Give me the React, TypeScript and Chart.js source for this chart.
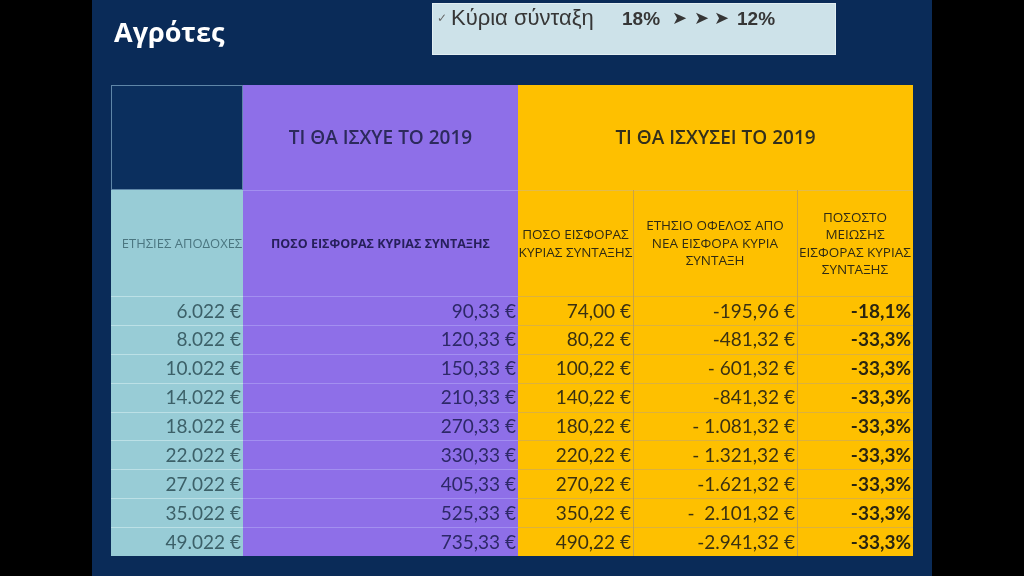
import React, { useEffect, useRef } from "react";
import { Chart, registerables } from "chart.js";

Chart.register(...registerables);

// ---- data ----
const annualIncome = [6022, 8022, 10022, 14022, 18022, 22022, 27022, 35022, 49022];
const contributionCurrent = [90.33, 120.33, 150.33, 210.33, 270.33, 330.33, 405.33, 525.33, 735.33];
const contributionNew = [74.0, 80.22, 100.22, 140.22, 180.22, 220.22, 270.22, 350.22, 490.22];
const annualBenefitLabels = [
  "-195,96 €",
  "-481,32 €",
  "- 601,32 €",
  "-841,32 €",
  "- 1.081,32 €",
  "- 1.321,32 €",
  "-1.621,32 €",
  "-  2.101,32 €",
  "-2.941,32 €",
];
const reductionPct = [-18.1, -33.3, -33.3, -33.3, -33.3, -33.3, -33.3, -33.3, -33.3];

const slideTitle = "Αγρότες";
const noteLabel = "Κύρια σύνταξη";
const noteFrom = "18%";
const noteTo = "12%";
const groupHeaders = ["ΤΙ ΘΑ ΙΣΧΥΕ ΤΟ 2019", "ΤΙ ΘΑ ΙΣΧΥΣΕΙ ΤΟ 2019"];
const columnHeaders = [
  ["ΕΤΗΣΙΕΣ ΑΠΟΔΟΧΕΣ"],
  ["ΠΟΣΟ ΕΙΣΦΟΡΑΣ ΚΥΡΙΑΣ ΣΥΝΤΑΞΗΣ"],
  ["ΠΟΣΟ ΕΙΣΦΟΡΑΣ", "ΚΥΡΙΑΣ ΣΥΝΤΑΞΗΣ"],
  ["ΕΤΗΣΙΟ ΟΦΕΛΟΣ ΑΠΟ", "ΝΕΑ ΕΙΣΦΟΡΑ ΚΥΡΙΑ", "ΣΥΝΤΑΞΗ"],
  ["ΠΟΣΟΣΤΟ", "ΜΕΙΩΣΗΣ", "ΕΙΣΦΟΡΑΣ ΚΥΡΙΑΣ", "ΣΥΝΤΑΞΗΣ"],
];

// ---- layout (scale units) ----
const COL_EDGES = [0, 132, 407, 522, 686, 802];
const HEADER_EDGES = [0, 105, 211];
const TABLE_BOTTOM = 471;

const NAVY = "#0a2b58";
const TEAL = "#98ccd6";
const PURPLE = "#8e6fe8";
const ORANGE = "#fec000";

const fmtThousands = (n: number) => String(n).replace(/\B(?=(\d{3})+(?!\d))/g, ".");
const fmtInt = (n: number) => `${fmtThousands(n)} €`;
const fmtDec = (n: number) => {
  const [i, d] = n.toFixed(2).split(".");
  return `${fmtThousands(Number(i))},${d} €`;
};
const fmtPct = (n: number) => `${n.toFixed(1).replace(".", ",")}%`;

const NUM_FONT = "Lato, 'Open Sans', sans-serif";
const GREEK_FONT = "'Open Sans', 'Noto Sans', sans-serif";

const tablePlugin = {
  id: "slideTable",
  beforeDraw(chart: any) {
    const ctx: CanvasRenderingContext2D = chart.ctx;
    const xs = chart.scales.x;
    const ys = chart.scales.y;
    const X = (v: number) => xs.getPixelForValue(v);
    const Y = (v: number) => ys.getPixelForValue(v);
    const nRows = annualIncome.length;
    const rowH = (TABLE_BOTTOM - HEADER_EDGES[2]) / nRows;
    const rowTop = (k: number) => HEADER_EDGES[2] + k * rowH;

    ctx.save();
    // slide background
    ctx.fillStyle = "#000";
    ctx.fillRect(0, 0, chart.width, chart.height);
    ctx.fillStyle = NAVY;
    ctx.fillRect(92, 0, 840, chart.height);

    // title
    ctx.fillStyle = "#ffffff";
    ctx.font = "bold 27px 'Open Sans', sans-serif";
    ctx.textBaseline = "alphabetic";
    ctx.textAlign = "left";
    ctx.fillText(slideTitle, 114, 42);

    // note box
    ctx.fillStyle = "#cde2e9";
    ctx.fillRect(432, 3, 404, 52);
    ctx.strokeStyle = "#e2eef2";
    ctx.lineWidth = 1;
    ctx.strokeRect(432.5, 3.5, 403, 51);
    ctx.fillStyle = "#666";
    ctx.font = "12px 'DejaVu Sans', sans-serif";
    ctx.fillText("✓", 437, 22);
    ctx.fillStyle = "#363636";
    ctx.font = "22px 'Liberation Sans', Arial, sans-serif";
    ctx.fillText(noteLabel, 451, 25);
    ctx.font = "bold 19px 'Liberation Sans', Arial, sans-serif";
    ctx.fillText(noteFrom, 622, 25);
    ctx.font = "18px 'DejaVu Sans', sans-serif";
    ctx.fillText("➤", 672, 24);
    ctx.fillText("➤", 694, 24);
    ctx.fillText("➤", 714, 24);
    ctx.font = "bold 19px 'Liberation Sans', Arial, sans-serif";
    ctx.fillText(noteTo, 737, 25);

    // ---- cell backgrounds ----
    const rect = (x0: number, x1: number, y0: number, y1: number, color: string) => {
      ctx.fillStyle = color;
      ctx.fillRect(X(x0), Y(y0), X(x1) - X(x0), Y(y1) - Y(y0));
    };
    rect(COL_EDGES[0], COL_EDGES[1], HEADER_EDGES[0], HEADER_EDGES[1], "#0b2f5e");
    rect(COL_EDGES[0], COL_EDGES[1], HEADER_EDGES[1], TABLE_BOTTOM, TEAL);
    rect(COL_EDGES[1], COL_EDGES[2], HEADER_EDGES[0], TABLE_BOTTOM, PURPLE);
    rect(COL_EDGES[2], COL_EDGES[5], HEADER_EDGES[0], TABLE_BOTTOM, ORANGE);

    // top-left cell border
    ctx.strokeStyle = "#5f86a8";
    ctx.lineWidth = 1;
    ctx.strokeRect(
      X(COL_EDGES[0]) + 0.5,
      Y(HEADER_EDGES[0]) + 0.5,
      X(COL_EDGES[1]) - X(COL_EDGES[0]) - 1,
      Y(HEADER_EDGES[1]) - Y(HEADER_EDGES[0]) - 1
    );

    const hline = (x0: number, x1: number, y: number, color: string) => {
      ctx.strokeStyle = color;
      ctx.lineWidth = 1;
      ctx.beginPath();
      const py = Math.round(Y(y)) + 0.5;
      ctx.moveTo(X(x0), py);
      ctx.lineTo(X(x1), py);
      ctx.stroke();
    };
    const vline = (x: number, y0: number, y1: number, color: string) => {
      ctx.strokeStyle = color;
      ctx.lineWidth = 1;
      ctx.beginPath();
      const px = Math.round(X(x)) + 0.5;
      ctx.moveTo(px, Y(y0));
      ctx.lineTo(px, Y(y1));
      ctx.stroke();
    };

    // row lines
    for (let k = 0; k < nRows; k++) {
      const y = rowTop(k);
      hline(COL_EDGES[0], COL_EDGES[1], y, "#bce0e6");
      hline(COL_EDGES[1], COL_EDGES[2], y, "#a38ff0");
      hline(COL_EDGES[2], COL_EDGES[5], y, "#dcb13e");
    }
    hline(COL_EDGES[1], COL_EDGES[2], HEADER_EDGES[1], "#a38ff0");
    hline(COL_EDGES[2], COL_EDGES[5], HEADER_EDGES[1], "#e2bb4c");
    vline(COL_EDGES[3], HEADER_EDGES[1], TABLE_BOTTOM, "#c9a347");
    vline(COL_EDGES[4], HEADER_EDGES[1], TABLE_BOTTOM, "#c9a347");

    // ---- header text ----
    ctx.textAlign = "center";
    ctx.textBaseline = "middle";
    const h1y = Y((HEADER_EDGES[0] + HEADER_EDGES[1]) / 2) + 1;
    ctx.font = `600 19px ${GREEK_FONT}`;
    ctx.fillStyle = "#2c2a5c";
    ctx.fillText(groupHeaders[0], X((COL_EDGES[1] + COL_EDGES[2]) / 2), h1y);
    ctx.fillStyle = "#33301c";
    ctx.fillText(groupHeaders[1], X((COL_EDGES[2] + COL_EDGES[5]) / 2), h1y);

    const h2c = Y((HEADER_EDGES[1] + HEADER_EDGES[2]) / 2) + 1;
    const lineGap = 17.5;
    columnHeaders.forEach((lines, c) => {
      const cx = X((COL_EDGES[c] + COL_EDGES[c + 1]) / 2);
      if (c === 0) {
        ctx.font = `13px ${GREEK_FONT}`;
        ctx.fillStyle = "#4b7680";
      } else if (c === 1) {
        ctx.font = `bold 12.5px ${GREEK_FONT}`;
        ctx.fillStyle = "#261f5a";
      } else {
        ctx.font = `500 13.5px ${GREEK_FONT}`;
        ctx.fillStyle = "#2f2a14";
      }
      const y0 = h2c - ((lines.length - 1) * lineGap) / 2;
      lines.forEach((t, i) => {
        ctx.fillText(t, c === 0 ? cx + 5 : cx, y0 + i * lineGap);
      });
    });

    // ---- data text ----
    ctx.textAlign = "right";
    const pad = 2;
    for (let k = 0; k < nRows; k++) {
      const cy = Y(rowTop(k) + rowH / 2) + 1;
      ctx.font = `19px ${NUM_FONT}`;
      ctx.fillStyle = "#3c6068";
      ctx.fillText(fmtInt(annualIncome[k]), X(COL_EDGES[1]) - pad, cy);
      ctx.fillStyle = "#2d2868";
      ctx.fillText(fmtDec(contributionCurrent[k]), X(COL_EDGES[2]) - pad, cy);
      ctx.fillStyle = "#3a3112";
      ctx.fillText(fmtDec(contributionNew[k]), X(COL_EDGES[3]) - pad, cy);
      ctx.fillText(annualBenefitLabels[k], X(COL_EDGES[4]) - pad, cy);
      ctx.font = `bold 19px ${NUM_FONT}`;
      ctx.fillStyle = "#2a2510";
      ctx.fillText(fmtPct(reductionPct[k]), X(COL_EDGES[5]) - pad, cy);
    }
    ctx.restore();
  },
};

export default function App() {
  const ref = useRef<HTMLCanvasElement | null>(null);
  useEffect(() => {
    if (!ref.current) return;
    const chart = new Chart(ref.current, {
      type: "scatter",
      data: { datasets: [] },
      options: {
        animation: false,
        responsive: false,
        maintainAspectRatio: false,
        devicePixelRatio: 1,
        layout: { padding: { left: 111, top: 85, right: 111, bottom: 20 } },
        plugins: { legend: { display: false }, tooltip: { enabled: false } },
        scales: {
          x: { type: "linear", display: false, offset: false, min: COL_EDGES[0], max: COL_EDGES[COL_EDGES.length - 1] },
          y: { type: "linear", display: false, offset: false, min: HEADER_EDGES[0], max: TABLE_BOTTOM, reverse: true },
        },
      },
      plugins: [tablePlugin],
    });
    return () => chart.destroy();
  }, []);
  return (
    <div style={{ position: "fixed", left: 0, top: 0, width: 1024, height: 576, background: "#000" }}>
      <canvas ref={ref} width={1024} height={576} style={{ display: "block", width: 1024, height: 576 }} />
    </div>
  );
}
